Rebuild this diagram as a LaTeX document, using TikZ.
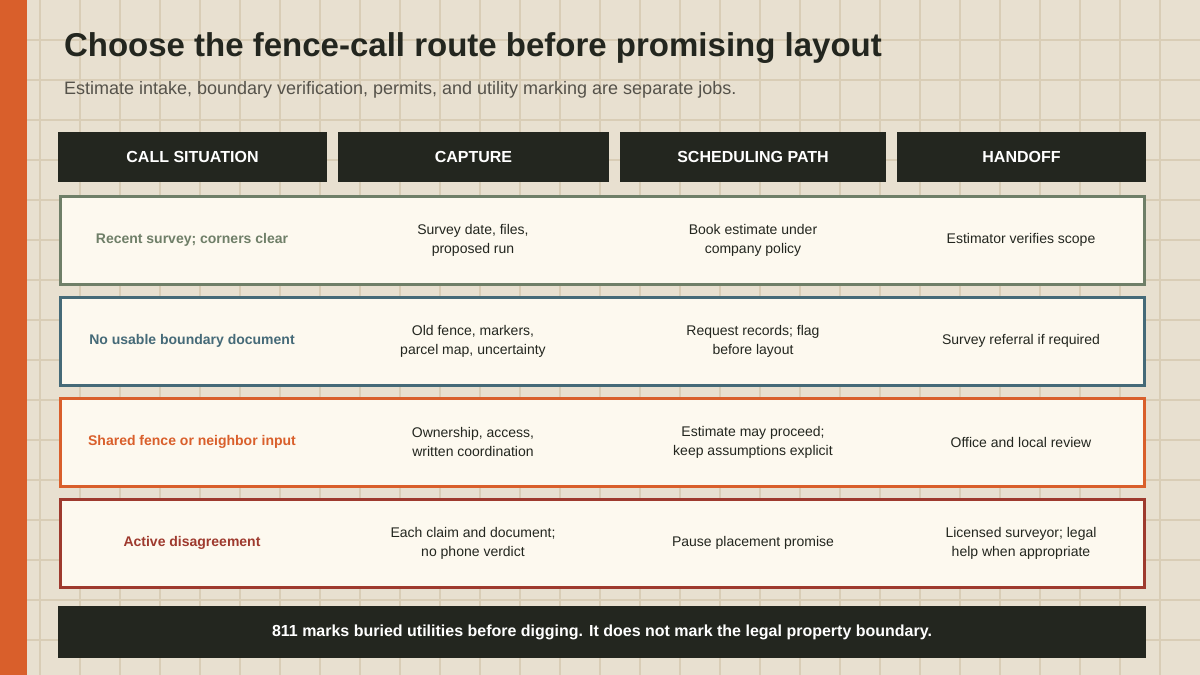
\documentclass[tikz,border=0pt]{standalone}
\usepackage{fontspec}
\setmainfont{Liberation Sans}
\definecolor{paper}{HTML}{E8E0D0}
\definecolor{gridc}{HTML}{D9CDB6}
\definecolor{rust}{HTML}{D95F2B}
\definecolor{ink}{HTML}{23261F}
\definecolor{cream}{HTML}{FDF9EF}
\definecolor{sage}{HTML}{6F7F68}
\definecolor{slate}{HTML}{456A78}
\definecolor{brick}{HTML}{9E3A2E}
\definecolor{subgray}{HTML}{55524A}
\tikzset{
  head/.style={fill=ink, text=white, font=\bfseries\fontsize{8}{10}\selectfont, inner sep=0pt},
  row/.style={fill=cream, draw=#1, line width=1.5pt},
  sit/.style={text=#1, font=\bfseries\fontsize{7}{9}\selectfont, align=center},
  cell/.style={text=ink, font=\fontsize{7}{9.5}\selectfont, align=center}
}
\begin{document}
\begin{tikzpicture}[x=0.5pt,y=-0.5pt]
\useasboundingbox (0,0) rectangle (1200,675);
\fill[paper] (0,0) rectangle (1200,675);
% grid
\foreach \gx in {40,80,...,1160} \draw[gridc, line width=0.6pt] (\gx,0) -- (\gx,675);
\foreach \gy in {40,80,...,640} \draw[gridc, line width=0.6pt] (0,\gy) -- (1200,\gy);
\fill[rust] (0,0) rectangle (27,675);

% title
\node[anchor=west, text=ink, font=\bfseries\fontsize{16.5}{19}\selectfont] (title) at (57,48) {Choose the fence-call route before promising layout};
\node[anchor=west, text=subgray, font=\fontsize{9}{11}\selectfont] (subtitle) at (57,90) {Estimate intake, boundary verification, permits, and utility marking are separate jobs.};

% header
\node[head, minimum width=134.5pt, minimum height=25pt] (h1) at (192.5,157) {CALL SITUATION};
\node[head, minimum width=135.5pt, minimum height=25pt] (h2) at (473.5,157) {CAPTURE};
\node[head, minimum width=133pt, minimum height=25pt] (h3) at (753,157) {SCHEDULING PATH};
\node[head, minimum width=124.5pt, minimum height=25pt] (h4) at (1021.5,157) {HANDOFF};

% rows
\draw[row=sage] (60,196) rectangle (1144,284);
\draw[row=slate] (60,297) rectangle (1144,385);
\draw[row=rust] (60,398) rectangle (1144,486);
\draw[row=brick] (60,499) rectangle (1144,587);

\node[sit=sage] (s1) at (192,240) {Recent survey; corners clear};
\node[cell] (c1) at (473,240) {Survey date, files,\\proposed run};
\node[cell] (p1) at (753,240) {Book estimate under\\company policy};
\node[cell] (o1) at (1021,240) {Estimator verifies scope};

\node[sit=slate] (s2) at (192,341) {No usable boundary document};
\node[cell] (c2) at (473,341) {Old fence, markers,\\parcel map, uncertainty};
\node[cell] (p2) at (753,341) {Request records; flag\\before layout};
\node[cell] (o2) at (1021,341) {Survey referral if required};

\node[sit=rust] (s3) at (192,442) {Shared fence or neighbor input};
\node[cell] (c3) at (473,442) {Ownership, access,\\written coordination};
\node[cell] (p3) at (753,442) {Estimate may proceed;\\keep assumptions explicit};
\node[cell] (o3) at (1021,442) {Office and local review};

\node[sit=brick] (s4) at (192,543) {Active disagreement};
\node[cell] (c4) at (473,543) {Each claim and document;\\no phone verdict};
\node[cell] (p4) at (753,543) {Pause placement promise};
\node[cell] (o4) at (1021,543) {Licensed surveyor; legal\\help when appropriate};

% footer
\node[head, minimum width=544pt, minimum height=26pt] (note) at (602,632) {811 marks buried utilities before digging. It does not mark the legal property boundary.};
\end{tikzpicture}
\end{document}
